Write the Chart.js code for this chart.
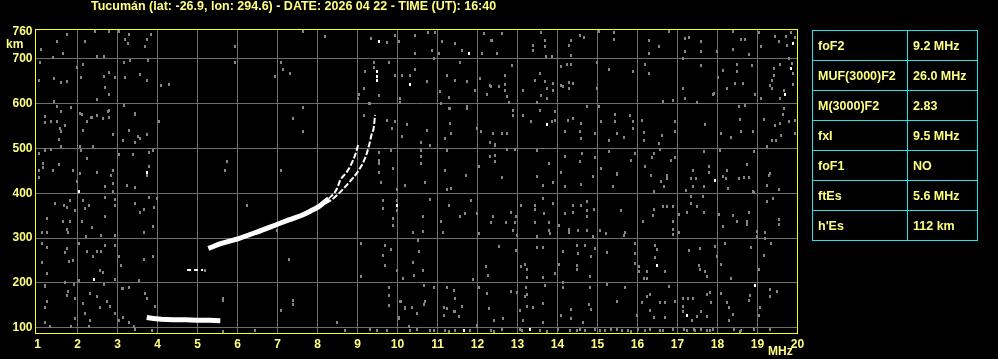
<!DOCTYPE html>
<html>
<head>
<meta charset="utf-8">
<script src="https://cdn.jsdelivr.net/npm/chart.js@4.4.1/dist/chart.umd.min.js"></script>
<style>
html,body{margin:0;padding:0;background:#000;}
#wrap{position:relative;width:998px;height:359px;overflow:hidden;}
#c{position:absolute;left:0;top:0;}
#tab{position:absolute;left:812px;top:30px;border-collapse:collapse;table-layout:fixed;}
#tab td{border:1px solid #22e4ee;height:29px;padding:0 0 0 5px;color:#ffff80;font:bold 12.5px "Liberation Sans",Arial,sans-serif;white-space:nowrap;}
</style>
</head>
<body>
<div id="wrap">
<canvas id="c" width="998" height="359"></canvas>
<table id="tab">
<colgroup><col style="width:95px"><col style="width:70px"></colgroup>
<tbody id="tb"></tbody>
</table>
</div>
<script>
// ionogram axes
const xTicks = [1,2,3,4,5,6,7,8,9,10,11,12,13,14,15,16,17,18,19,20];
const yTicks = [100,200,300,400,500,600,700,760];

// scaled parameters (right table)
const paramNames = ["foF2","MUF(3000)F2","M(3000)F2","fxI","foF1","ftEs","h'Es"];
const paramValues = ["9.2 MHz","26.0 MHz","2.83","9.5 MHz","NO","5.6 MHz","112 km"];

// traces: frequency (MHz) / virtual height (km)
const esFreq   = [3.73,3.9,4.1,4.4,4.7,5.0,5.3,5.57];
const esHeight = [123,121,119,118,118,117,117,116];
const es2Freq   = [4.74,4.85,4.95,5.05,5.14];
const es2Height = [229,229,229,229,229];
const fFreq   = [5.27,5.6,6.03,6.5,7.03,7.3,7.61,7.82,8.03,8.28];
const fHeight = [277,288,299,314,332,341,351,360,370,388];
const oFreq   = [8.28,8.47,8.57,8.73,8.83,8.94,8.98,9.03];
const oHeight = [388,407,429,447,462,485,496,512];
const xFreq   = [8.03,8.36,8.65,8.78,8.90,9.03,9.15,9.23,9.29,9.36,9.40,9.44];
const xHeight = [370,386,410,423,435,451,470,488,507,533,543,574];

// bright specks
const whiteSpecks = [[9.53,737],[9.49,652],[9.49,660],[9.48,672],[10.30,642],[11.79,711],[3.73,447],[2.03,403],
  [2.42,208],[11.65,95],[19.89,733],[19.84,678],[19.69,620],[13.74,553],[17.94,429],[16.49,240],[17.23,127],
  [18.94,195],[13.30,96],[9.98,373]];

// background noise
const noise = [
 [1.09,721],[1.49,738],[1.74,753],[1.64,712],[1.38,702],[1.07,692],[2.14,687],[2.19,738],[2.44,761],[2.78,761],
 [3.03,761],[3.28,753],[3.84,753],[3.19,743],[3.74,743],[3.26,733],[3.69,726],[2.49,704],[2.65,704],[3.15,692],
 [3.32,696],[3.77,695],[1.04,652],[1.40,655],[1.59,647],[1.74,648],[2.09,657],[2.65,659],[2.78,668],[2.94,657],
 [3.19,657],[3.55,665],[3.74,652],[4.09,639],[4.28,641],[2.68,635],[2.78,620],[1.98,679],[5.94,726],[5.94,690],
 [6.94,659],[7.30,667],[7.63,761],[8.19,750],[9.33,745],[9.73,735],[9.94,752],[10.03,737],[9.78,690],[9.19,670],
 [9.94,663],[10.11,663],[10.30,663],[10.44,676],[10.74,648],[10.44,752],[10.76,757],[10.94,757],[11.11,737],[10.86,718],
 [11.03,711],[10.44,711],[10.90,700],[11.44,733],[11.61,718],[12.11,711],[12.15,756],[12.36,739],[12.07,655],[12.32,640],
 [11.07,626],[11.28,614],[11.24,663],[11.44,652],[11.74,648],[11.94,629],[12.24,620],[10.07,611],[9.28,600],[9.53,618],
 [9.15,633],[11.57,692],[11.32,589],[11.74,589],[7.63,590],[1.49,592],[1.84,590],[1.19,570],[2.36,568],[2.78,585],
 [2.07,577],[3.15,596],[3.44,577],[2.49,609],[1.40,605],[7.09,690],[7.14,676],
 [1.19,557],[1.59,581],[1.34,559],[1.49,559],[1.55,544],[1.59,537],[1.69,550],[1.54,520],[1.59,503],[1.34,497],
 [1.19,496],[1.04,488],[1.14,467],[1.14,457],[1.04,451],[1.04,434],[1.38,451],[1.54,465],[1.89,451],[2.05,444],
 [2.24,477],[2.09,496],[2.39,505],[2.05,505],[2.11,576],[2.34,569],[2.48,574],[2.64,566],[2.78,569],[2.75,583],
 [2.24,559],[2.14,540],[2.88,531],[3.13,518],[3.29,540],[3.44,576],[3.50,527],[3.73,531],[3.44,514],[3.57,522],
 [4.04,559],[3.89,496],[3.79,491],[3.38,487],[3.03,487],[2.48,445],[2.88,451],[2.84,439],[2.88,422],[2.69,414],
 [2.88,403],[3.24,418],[3.44,412],[3.79,460],[3.73,439],[1.99,425],[1.44,378],[1.65,373],[1.80,383],[1.74,369],
 [1.94,362],[2.14,384],[2.19,366],[2.29,373],[2.69,390],[2.94,387],[2.94,373],[1.24,344],[1.64,338],[1.80,338],
 [2.11,338],[2.36,324],[2.59,306],[1.74,320],[1.75,312],[1.11,312],[1.24,312],[2.21,303],[2.69,349],[2.94,306],
 [3.44,378],[3.55,356],[3.67,364],[3.79,390],[3.90,369],[3.89,325],[3.65,312],[3.98,388],[1.11,289],[1.24,280],
 [1.12,245],[1.24,222],[1.74,277],[1.69,267],[1.89,249],[1.78,247],[2.03,289],[2.24,271],[2.39,258],[2.48,271],
 [2.59,271],[2.69,284],[2.94,284],[2.57,227],[2.64,223],[3.03,258],[3.09,240],[2.94,208],[2.03,205],[1.69,200],
 [1.90,197],[1.19,194],[2.65,197],[3.29,191],[3.54,205],[3.67,252],[3.89,258],[3.13,188],
 [1.19,193],[1.24,158],[1.19,145],[1.19,113],[1.32,104],[1.77,182],[1.74,173],[1.94,165],[2.14,154],[2.32,177],
 [2.48,169],[2.57,145],[2.74,158],[2.82,147],[2.19,132],[1.94,121],[2.32,117],[2.28,102],[1.84,104],[2.94,132],
 [3.03,117],[3.13,123],[3.28,113],[3.40,104],[3.44,96],[3.69,177],[3.74,165],[3.94,148],[3.86,95],[3.28,191],
 [3.11,188],[5.64,165],[5.64,160],[5.64,91],[6.44,95],[7.09,138],[7.38,162],[7.38,151],[8.49,113],[8.69,95],
 [9.78,191],[9.78,173],[9.78,149],[10.03,123],[10.07,158],[10.19,145],[10.36,145],[10.49,132],[10.65,195],[10.69,158],
 [10.65,151],[10.90,191],[11.15,145],[11.15,127],[11.24,191],[11.40,184],[11.44,165],[11.61,147],[11.53,125],[11.44,136],
 [12.03,191],[12.24,177],[12.28,143],[10.28,102],[9.32,96],[9.48,95],[9.73,95],[10.32,95],[10.49,96],[10.82,95],
 [10.90,95],[11.19,95],[11.28,91],[11.44,95],[11.82,95],[11.98,104],[12.40,91],
 [7.38,566],[7.64,537],[5.74,470],[5.69,451],[7.09,451],[6.24,373],[6.98,318],[7.28,253],[5.19,227],[9.15,574],
 [9.30,600],[10.05,601],[9.73,563],[9.94,559],[10.24,554],[9.86,544],[10.11,527],[10.74,540],[11.19,522],[11.34,533],
 [11.32,555],[11.09,600],[11.28,589],[11.74,592],[11.98,544],[12.09,537],[12.38,533],[12.30,514],[12.44,507],[10.59,514],
 [10.59,496],[10.80,507],[9.84,496],[9.54,490],[9.53,473],[9.54,466],[9.54,447],[9.88,455],[10.59,481],[10.59,466],
 [11.23,496],[11.19,451],[11.34,410],[11.23,408],[11.71,440],[12.03,459],[12.30,482],[12.44,470],[9.59,423],[9.98,408],
 [10.19,418],[10.69,423],[9.98,384],[9.98,362],[9.63,384],[9.63,366],[9.88,344],[9.88,329],[10.80,386],[10.63,347],
 [11.09,336],[11.29,373],[11.55,347],[11.69,355],[11.84,383],[11.98,355],[12.38,347],[12.03,310],[12.54,282],[9.09,289],
 [9.69,284],[9.84,275],[9.63,262],[9.69,238],[9.09,214],[9.98,228],[10.13,210],[10.38,312],[10.63,315],[10.50,294],
 [10.54,271],[10.38,245],[10.42,216],[10.63,228],[11.13,312],[11.88,208],[12.21,236],[12.25,217],[9.79,173],[10.09,158],
 [10.19,143],[11.23,143],[11.42,136],[11.98,106],[12.40,117],[10.03,121],[9.41,690],[9.41,680],[9.03,620],[9.00,610],
 [12.61,756],[12.34,741],[12.48,711],[13.38,730],[13.38,718],[13.59,758],[13.69,741],[13.69,726],[13.72,704],[13.86,704],
 [14.29,730],[14.34,739],[14.55,752],[14.65,747],[14.34,707],[15.03,761],[15.40,757],[15.40,743],[16.28,741],[16.54,726],
 [16.29,711],[16.79,761],[17.19,745],[17.29,746],[17.59,738],[17.19,716],[17.59,716],[17.98,715],[18.39,761],[18.58,743],
 [18.69,743],[18.38,720],[18.78,709],[19.03,759],[19.08,726],[19.44,750],[19.53,737],[19.72,748],[19.84,758],[19.74,730],
 [19.94,746],[19.78,700],[19.86,689],[19.89,667],[19.57,687],[19.40,678],[19.40,663],[19.36,652],[19.32,640],[19.36,633],
 [19.65,629],[19.89,642],[19.57,612],[19.08,612],[18.94,620],[18.86,685],[18.48,687],[18.48,670],[18.13,674],[18.02,657],
 [18.24,634],[18.44,644],[18.63,644],[17.59,685],[17.13,700],[17.13,634],[17.19,612],[17.49,603],[17.89,620],[16.19,687],
 [16.29,667],[15.88,670],[15.28,675],[14.98,692],[14.98,634],[14.34,687],[14.24,687],[14.09,683],[14.09,640],[14.14,637],
 [14.29,647],[14.39,644],[14.28,633],[13.88,644],[13.89,629],[13.74,633],[13.69,648],[13.59,618],[13.74,612],[13.49,602],
 [13.44,652],[13.55,667],[13.13,629],[12.86,685],[12.69,663],[12.69,642],[12.69,629],[12.73,616],[12.78,603],[12.53,638],
 [12.34,637],[16.63,605],[16.89,607],[17.90,622],
 [12.88,585],[12.88,574],[13.13,574],[13.33,559],[13.57,585],[13.86,560],[13.94,581],[13.94,563],[14.25,563],[14.39,566],
 [14.59,555],[14.73,594],[14.55,537],[14.19,537],[14.59,522],[15.04,594],[15.09,559],[14.94,533],[15.28,518],[15.44,576],
 [15.49,533],[15.65,523],[15.44,559],[15.82,572],[15.88,559],[15.88,545],[16.11,563],[16.17,535],[16.17,518],[16.61,529],
 [16.54,511],[16.94,559],[16.94,538],[17.69,554],[18.09,533],[18.34,523],[18.59,537],[18.55,565],[18.53,592],[18.69,596],
 [18.88,537],[19.17,565],[19.44,551],[19.57,555],[19.67,589],[19.78,559],[19.64,575],[19.94,563],[19.94,533],[19.59,529],
 [19.36,518],[19.47,518],[19.23,505],[12.39,533],[12.44,508],[12.61,533],[12.73,533],
 [12.44,485],[12.73,498],[12.94,498],[13.49,496],[13.78,466],[14.19,482],[14.08,447],[14.55,470],[14.61,488],[14.93,479],
 [15.09,456],[15.29,492],[15.49,444],[15.94,488],[15.84,473],[16.19,459],[16.40,488],[16.36,479],[16.57,498],[16.84,473],
 [16.94,479],[17.38,451],[17.65,492],[17.79,459],[18.05,496],[18.24,451],[18.74,464],[18.90,492],[19.30,444],
 [12.61,435],[13.49,438],[13.64,418],[13.88,423],[14.09,447],[14.19,414],[14.59,420],[14.88,438],[15.49,442],[15.38,414],
 [16.34,440],[16.59,427],[16.74,440],[16.74,433],[16.65,414],[16.40,403],[17.21,407],[17.38,416],[17.65,414],[17.78,447],
 [18.13,438],[18.21,433],[18.53,433],[18.65,435],[18.79,435],[18.25,410],[19.29,440],[19.23,418],[19.54,409],[18.88,403],
 [17.33,432],[17.45,432],
 [13.09,373],[13.44,373],[13.44,364],[13.64,388],[13.88,377],[13.65,355],[13.44,334],[13.79,334],[14.03,329],[13.78,318],
 [14.19,355],[14.39,373],[14.39,356],[14.59,373],[14.73,381],[14.90,364],[14.73,347],[14.73,361],[14.29,319],[14.29,312],
 [14.50,318],[14.73,318],[14.88,303],[12.84,358],[12.97,347],[12.94,334],[12.72,334],[12.39,347],[12.34,334],[12.88,316],
 [12.98,306],[13.80,310],[13.49,303],[15.07,316],[15.22,310],[15.59,361],[15.69,312],[15.65,306],[16.14,338],[16.40,364],
 [16.38,351],[16.63,370],[16.74,370],[16.89,370],[16.89,338],[16.89,319],[16.89,308],[17.03,312],[17.04,353],[17.24,356],
 [17.34,393],[17.34,377],[17.49,370],[17.65,356],[17.63,392],[18.04,353],[18.13,325],[18.39,351],[18.48,338],[18.74,338],
 [18.74,331],[18.78,356],[18.92,402],[18.98,315],[18.98,303],[19.19,312],[19.19,299],[19.23,381],[19.38,388],[19.53,341],
 [19.53,330],
 [12.97,273],[13.09,237],[13.19,242],[13.24,230],[13.24,212],[13.49,279],[13.64,279],[13.64,212],[13.94,222],[14.03,242],
 [14.14,271],[14.14,202],[14.48,284],[14.50,266],[14.48,240],[14.48,229],[14.69,284],[14.84,258],[14.80,215],[14.94,277],
 [15.24,269],[15.93,288],[15.94,266],[15.94,243],[16.04,236],[16.04,225],[16.24,225],[16.15,210],[16.24,210],[16.44,284],
 [16.49,275],[16.44,257],[16.69,226],[17.29,272],[17.55,277],[17.53,240],[17.55,230],[17.69,226],[17.73,214],[17.94,282],
 [17.99,258],[18.09,242],[18.19,288],[18.34,209],[18.83,279],[19.03,230],[19.15,262],[19.34,289],
 [12.83,182],[12.98,178],[13.22,191],[13.24,175],[13.19,169],[13.24,147],[13.38,145],[13.64,154],[13.68,195],[13.05,139],
 [12.63,122],[13.13,117],[13.64,113],[14.09,127],[14.34,141],[14.34,121],[14.78,153],[14.84,141],[14.64,113],[14.14,191],
 [14.82,191],[15.24,197],[15.49,158],[15.69,191],[15.99,128],[16.11,156],[16.24,169],[16.30,175],[16.32,139],[16.40,124],
 [16.57,156],[16.69,156],[16.69,124],[16.79,193],[16.94,158],[17.13,147],[17.13,136],[17.36,117],[17.49,125],[17.59,136],
 [17.73,175],[17.73,125],[17.83,156],[17.82,178],[18.09,177],[18.24,156],[18.29,145],[18.38,130],[18.28,117],[18.78,162],
 [18.82,173],[19.05,145],[19.03,128],[19.30,185],[19.48,182],[19.30,169],[17.13,165],[17.25,165],[17.38,165],
 [12.34,95],[12.61,96],[13.07,97],[13.12,95],[14.02,96],[14.32,95],[14.57,97],[14.69,95],[14.94,96],[15.19,95],
 [15.33,97],[15.48,96],[15.61,95],[16.02,96],[16.19,95],[16.32,97],[16.63,95],[16.89,96],[17.23,95],[17.40,97],
 [17.59,96],[17.73,95],[17.89,96],[18.58,95],[18.90,96],[19.32,97],[13.73,93],[14.49,95],[15.05,94],[15.83,93],
 [16.55,95],[17.15,96],[17.44,94],[17.82,95],[18.40,96],[18.55,93],[13.55,94],[15.75,95]
];

const TXT = "#ffff80";
const FONT = '"Liberation Sans", Arial, sans-serif';

function dot(color, w, h) {
  const c = document.createElement("canvas");
  c.width = w; c.height = h;
  const g = c.getContext("2d");
  g.fillStyle = color;
  g.fillRect(0, 0, w, h);
  return c;
}
const grayDot = dot("#858585", 2, 3);
const whiteDot = dot("#ffffff", 2, 3);

const pts = (fs, hs) => fs.map((f, i) => ({x: f, y: hs[i]}));
const pairs = arr => arr.map(p => ({x: p[0], y: p[1]}));

const tb = document.getElementById("tb");
paramNames.forEach((n, i) => {
  const tr = document.createElement("tr");
  tr.innerHTML = "<td>" + n + "</td><td>" + paramValues[i] + "</td>";
  tb.appendChild(tr);
});

const frame = {
  id: "frame",
  afterDraw(chart) {
    const {ctx, chartArea: a} = chart;
    ctx.save();
    ctx.strokeStyle = "#ffff00";
    ctx.lineWidth = 1;
    ctx.strokeRect(a.left, a.top, a.right - a.left, a.bottom - a.top);
    ctx.fillStyle = TXT;
    ctx.textBaseline = "middle";
    ctx.textAlign = "left";
    ctx.font = "bold 12.5px " + FONT;
    ctx.fillText("Tucumán (lat: -26.9, lon: 294.6) - DATE: 2026 04 22 - TIME (UT): 16:40", 91, 7);
    ctx.font = "bold 12px " + FONT;
    ctx.fillText("km", 6, 45);
    ctx.fillText("MHz", 768, 352);
    ctx.restore();
  }
};

const tickFont = {family: FONT, size: 12, weight: "bold"};

new Chart(document.getElementById("c"), {
  type: "scatter",
  data: {
    datasets: [
      {data: pairs(noise), pointStyle: grayDot, radius: 1, showLine: false},
      {data: pairs(whiteSpecks), pointStyle: whiteDot, radius: 1, showLine: false},
      {data: pts(esFreq, esHeight), showLine: true, borderColor: "#fff", borderWidth: 5, pointRadius: 0},
      {data: pts(es2Freq, es2Height), showLine: true, borderColor: "#fff", borderWidth: 2, borderDash: [4, 3], pointRadius: 0},
      {data: pts(fFreq, fHeight), showLine: true, borderColor: "#fff", borderWidth: 5, pointRadius: 0, cubicInterpolationMode: "monotone"},
      {data: pts(oFreq, oHeight), showLine: true, borderColor: "#fff", borderWidth: 2, borderDash: [6, 2], pointRadius: 0, cubicInterpolationMode: "monotone"},
      {data: pts(xFreq, xHeight), showLine: true, borderColor: "#fff", borderWidth: 2, borderDash: [6, 2], pointRadius: 0, cubicInterpolationMode: "monotone"}
    ]
  },
  options: {
    responsive: false,
    animation: false,
    events: [],
    layout: {padding: {top: 29.5, right: 200.5, left: 0, bottom: 0}},
    plugins: {legend: {display: false}, tooltip: {enabled: false}},
    scales: {
      x: {
        type: "linear", min: 0.95, max: 20,
        afterBuildTicks: s => { s.ticks = xTicks.map(v => ({value: v})); },
        afterFit: s => { s.height = 25.5; },
        grid: {color: c => (c.tick && (c.tick.value === 1 || c.tick.value === 20)) ? "rgba(0,0,0,0)" : "#6e6e6e", drawTicks: false},
        border: {display: false},
        ticks: {color: TXT, font: tickFont, padding: 4, maxRotation: 0, autoSkip: false}
      },
      y: {
        type: "linear", min: 87.5, max: 764.6,
        afterBuildTicks: s => { s.ticks = yTicks.map(v => ({value: v})); },
        afterFit: s => { s.width = 35.5; },
        grid: {color: c => (c.tick && c.tick.value === 760) ? "rgba(0,0,0,0)" : "#6e6e6e", drawTicks: false},
        border: {display: false},
        ticks: {color: TXT, font: tickFont, padding: 3, autoSkip: false}
      }
    }
  },
  plugins: [frame]
});
</script>
</body>
</html>
